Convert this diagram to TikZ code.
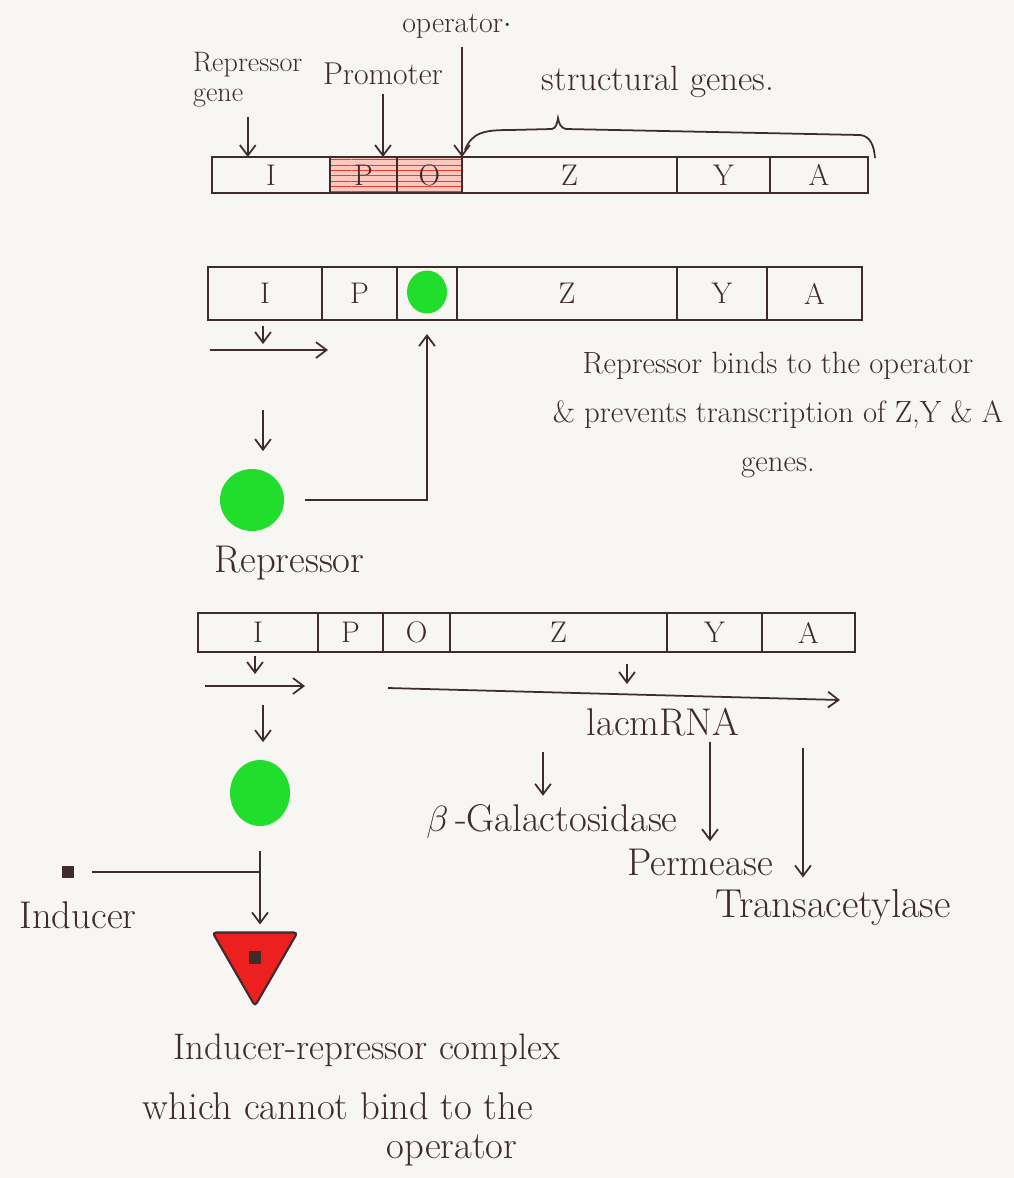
\documentclass[tikz,border=0pt]{standalone}
\usepackage{tikz}
\usetikzlibrary{positioning,arrows.meta,shapes.geometric,patterns}
\definecolor{ink}{RGB}{62,42,48}
\definecolor{paper}{RGB}{248,246,243}
\definecolor{repgreen}{RGB}{34,222,44}
\definecolor{cpxred}{RGB}{236,32,30}
\definecolor{hatchpink}{RGB}{251,200,190}
\definecolor{hatchred}{RGB}{232,62,52}
\tikzset{
  cell/.style={draw=ink,line width=1pt,inner sep=0pt,outer sep=0pt,text=ink,font=\fontsize{17}{20}\selectfont},
  hatched/.style={preaction={fill=hatchpink},pattern=horizontal lines,pattern color=hatchred},
  arr/.style={draw=ink,line width=1pt,-{Straight Barb[length=6pt,width=9pt]}},
  ln/.style={draw=ink,line width=1pt},
  rep/.style={ellipse,fill=repgreen,inner sep=0pt},
  lbl/.style={text=ink,font=\fontsize{22}{26}\selectfont,inner sep=1pt},
  blk/.style={text=ink,font=\fontsize{17.5}{28}\selectfont,inner sep=1pt},
  small/.style={text=ink,font=\fontsize{18}{15}\selectfont,inner sep=1pt},
}
\begin{document}
\begin{tikzpicture}[x=0.02cm,y=-0.02cm]
\fill[paper] (0,0) rectangle (1014,1178);
\useasboundingbox (0,0) rectangle (1014,1178);
% operon with labels
\node[cell,minimum width=2.36cm,minimum height=0.72cm] (aI) at (271,175) {I};
\node[cell,hatched,minimum width=1.34cm,minimum height=0.72cm] (aP) at (363.5,175) {P};
\node[cell,hatched,minimum width=1.30cm,minimum height=0.72cm] (aO) at (429.5,175) {O};
\node[cell,minimum width=4.30cm,minimum height=0.72cm] (aZ) at (569.5,175) {Z};
\node[cell,minimum width=1.86cm,minimum height=0.72cm] (aY) at (723.5,175) {Y};
\node[cell,minimum width=1.96cm,minimum height=0.72cm] (aA) at (819,175) {A};
\node[small,font=\fontsize{17}{20}\selectfont] (oplab) at (457,26) {operator$\cdot$};
\node[small,font=\fontsize{16}{17}\selectfont,align=left,anchor=west] (rglab) at (191,80) {Repressor\\gene};
\node[small] (pmlab) at (383,74) {Promoter};
\node[lbl,font=\fontsize{20}{24}\selectfont] (sglab) at (658,82) {structural genes.};
\draw[arr] ([yshift=-4pt]oplab.south -| aO.north east) -- (aO.north east);
\draw[arr] ([yshift=-4pt]rglab.south) -- (rglab.south |- aI.north);
\draw[arr] ([yshift=-4pt]pmlab.south) -- (pmlab.south |- aP.north);
\draw[ln] (465,150) .. controls (472,132) and (485,130) .. (510,130) -- (552,129)
  .. controls (556,128) and (557,124) .. (558,118) .. controls (559,124) and (561,128) .. (566,129)
  -- (860,135) .. controls (870,136) and (874,145) .. (875,158);
% repressor bound to the operator
\node[cell,minimum width=2.28cm,minimum height=1.06cm] (bI) at (265,293.5) {I};
\node[cell,minimum width=1.50cm,minimum height=1.06cm] (bP) at (359.5,293.5) {P};
\node[cell,minimum width=1.20cm,minimum height=1.06cm] (bO) at (427,293.5) {};
\node[cell,minimum width=4.40cm,minimum height=1.06cm] (bZ) at (567,293.5) {Z};
\node[cell,minimum width=1.80cm,minimum height=1.06cm] (bY) at (722,293.5) {Y};
\node[cell,minimum width=1.90cm,minimum height=1.06cm] (bA) at (814.5,293.5) {A};
\node[rep,minimum width=0.80cm,minimum height=0.86cm] (bound) at (427,292) {};
\coordinate (b1) at (263,326);
\coordinate (b2) at (210,350);
\coordinate (b3) at (263,410);
\draw[arr] (b1) -- ++(0,18);
\draw[arr] (b2) -- ++(118,0);
\node[rep,minimum width=1.28cm,minimum height=1.24cm] (rep1) at (252,500) {};
\draw[arr,shorten >=10pt] (b3) -- (b3 |- rep1.north);
\draw[arr,shorten <=12pt,shorten >=8pt] (rep1.east) -| (bO.south);
\node[blk,align=center] (bindtxt) at (778,415) {Repressor binds to the operator\\\& prevents transcription of Z,Y \& A\\genes.};
\node[lbl,anchor=west] (replab) at (212,563) {Repressor};
% induced operon
\node[cell,minimum width=2.40cm,minimum height=0.78cm] (cI) at (258,632.5) {I};
\node[cell,minimum width=1.30cm,minimum height=0.78cm] (cP) at (350.5,632.5) {P};
\node[cell,minimum width=1.34cm,minimum height=0.78cm] (cO) at (416.5,632.5) {O};
\node[cell,minimum width=4.34cm,minimum height=0.78cm] (cZ) at (558.5,632.5) {Z};
\node[cell,minimum width=1.90cm,minimum height=0.78cm] (cY) at (714.5,632.5) {Y};
\node[cell,minimum width=1.86cm,minimum height=0.78cm] (cA) at (808.5,632.5) {A};
\coordinate (c1) at (255,656);
\coordinate (c2) at (205,686);
\coordinate (c3) at (263,705);
\coordinate (m1) at (627,664);
\coordinate (m2) at (388,688);
\coordinate (m3) at (840,700);
\draw[arr] (c1) -- ++(0,18);
\draw[arr] (c2) -- ++(100,0);
\draw[arr] (m1) -- ++(0,20);
\draw[arr] (m2) -- (m3);
\node[lbl] (mrna) at (663,722) {lacmRNA};
\node[rep,minimum width=1.20cm,minimum height=1.32cm] (rep2) at (260,793) {};
\draw[arr,shorten >=10pt] (c3) -- (c3 |- rep2.north);
\node[lbl] (galac) at (552,822) {$\beta$\,-Galactosidase};
\node[lbl] (perm) at (700,862) {Permease};
\node[lbl,font=\fontsize{23}{27}\selectfont] (trans) at (833,908) {Transacetylase};
\coordinate (g1) at (543,752);
\coordinate (g2) at (710,742);
\coordinate (g3) at (803,748);
\draw[arr,shorten >=4pt] (g1) -- (g1 |- galac.north);
\draw[arr] (g2) -- (g2 |- galac.south);
\draw[arr] (g3) -- (g3 |- perm.south);
% inducer and complex
\node[regular polygon,regular polygon sides=3,shape border rotate=180,minimum size=1.96cm,
  fill=cpxred,draw=ink,line width=1.2pt,rounded corners=2pt] (complex) at (255,957) {};
\node[fill=ink,minimum size=0.26cm,inner sep=0pt] (cpxdot) at (complex.center) {};
\node[fill=ink,minimum size=0.24cm,inner sep=0pt] (ind) at (68,872) {};
\node[lbl] (indlab) at (78,915) {Inducer};
\draw[arr,shorten <=14pt,shorten >=4pt] (rep2.south) -- (rep2.south |- complex.north);
\draw[ln,shorten <=10pt] (ind.east) -- (ind.east -| rep2.south);
\node[lbl,font=\fontsize{21}{25}\selectfont] (cpxlab1) at (367,1050) {Inducer-repressor complex};
\node[lbl] (cpxlab2) at (338,1106) {which cannot bind to the};
\node[lbl] (cpxlab3) at (452,1150) {operator};
\end{tikzpicture}
\end{document}
